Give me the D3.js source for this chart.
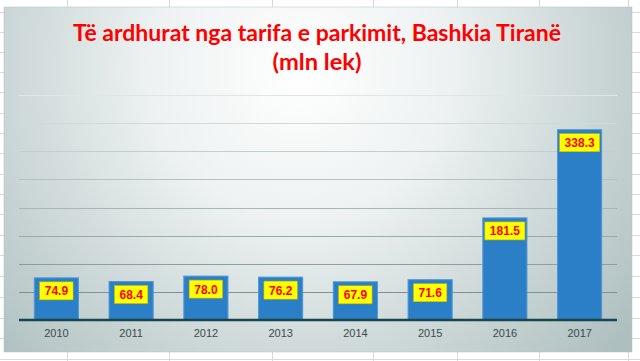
<!DOCTYPE html>
<html>
<head>
<meta charset="utf-8">
<script src="https://cdn.jsdelivr.net/npm/d3@7"></script>
<style>
  html, body { margin: 0; padding: 0; background: #fff; }
  svg { display: block; }
</style>
</head>
<body>
<svg id="chart" width="640" height="361"></svg>
<script>
// te dhenat e grafikut
const years = ["2010", "2011", "2012", "2013", "2014", "2015", "2016", "2017"];
const revenue = [74.9, 68.4, 78.0, 76.2, 67.9, 71.6, 181.5, 338.3];
const yTicks = [50, 100, 150, 200, 250, 300, 350, 400];
const titleLines = ["Të ardhurat nga tarifa e parkimit, Bashkia Tiranë", "(mln lek)"];

// rrjeta e fletes Excel ne sfond
const sheetCols = [67, 169, 272, 373, 457, 539, 628];
const sheetRows = [12, 32, 52, 72, 92, 113, 133, 153, 174, 194, 214, 235, 255, 276, 297, 318, 338, 359];

const width = 640, height = 361;
const panel = { x: 4, y: 7, w: 628, h: 345 };
const plot = { left: 19, right: 617, top: 95, bottom: 320 };

const svg = d3.select("#chart");

// sfondi i fletes
const sheet = svg.append("g").attr("class", "sheet");
sheet.selectAll("line.col")
  .data(sheetCols)
  .enter().append("line")
  .attr("x1", d => d + 0.5).attr("x2", d => d + 0.5)
  .attr("y1", 0).attr("y2", height)
  .style("stroke", "#d9d9d9");
sheet.selectAll("line.row")
  .data(sheetRows)
  .enter().append("line")
  .attr("x1", 0).attr("x2", width)
  .attr("y1", d => d + 0.5).attr("y2", d => d + 0.5)
  .style("stroke", "#d9d9d9");

// gradienti i panelit
const defs = svg.append("defs");
const grad = defs.append("radialGradient")
  .attr("id", "panelGrad")
  .attr("gradientUnits", "userSpaceOnUse")
  .attr("cx", 300).attr("cy", 70).attr("r", 420)
  .attr("fx", 300).attr("fy", 70);
grad.append("stop").attr("offset", "0%").attr("stop-color", "#ffffff");
grad.append("stop").attr("offset", "35%").attr("stop-color", "#eef2f2");
grad.append("stop").attr("offset", "100%").attr("stop-color", "#aebfbf");

svg.append("rect")
  .attr("x", panel.x).attr("y", panel.y)
  .attr("width", panel.w).attr("height", panel.h)
  .style("fill", "url(#panelGrad)")
  .style("stroke", "#b4c2c2")
  .style("stroke-width", 0.5);

// shkallet
const x = d3.scaleBand()
  .domain(years)
  .range([plot.left, plot.right])
  .paddingInner(0.41)
  .paddingOuter(0.205);

const y = d3.scaleLinear()
  .domain([0, 400])
  .range([plot.bottom, plot.top]);

// vijat e rrjetes, me te lehta lart
const gridColor = d3.interpolateRgb("#7e9292", "#dfe6e6");
svg.append("g")
  .attr("class", "grid")
  .selectAll("line")
  .data(yTicks)
  .enter().append("line")
  .attr("x1", plot.left).attr("x2", plot.right)
  .attr("y1", d => Math.round(y(d)) + 0.5)
  .attr("y2", d => Math.round(y(d)) + 0.5)
  .style("stroke", (d, i) => gridColor(i / (yTicks.length - 1)))
  .style("stroke-width", 1.2);

// shtyllat
svg.append("g")
  .attr("class", "bars")
  .selectAll("rect")
  .data(revenue)
  .enter().append("rect")
  .attr("x", (d, i) => x(years[i]))
  .attr("y", d => y(d))
  .attr("width", x.bandwidth())
  .attr("height", d => y(0) - y(d))
  .style("fill", "#2a7fc6")
  .style("stroke", "#4e97d6")
  .style("stroke-width", 1);

// boshti x
const xAxis = svg.append("g")
  .attr("transform", `translate(0, ${plot.bottom})`)
  .call(d3.axisBottom(x).tickSize(0).tickPadding(9));
xAxis.select(".domain").remove();
xAxis.selectAll("text")
  .style("font-family", "'Liberation Sans', Arial, sans-serif")
  .style("font-size", "11px")
  .style("fill", "#3b4c4c");

svg.append("line")
  .attr("x1", plot.left).attr("x2", plot.right)
  .attr("y1", plot.bottom).attr("y2", plot.bottom)
  .style("stroke", "#17464c")
  .style("stroke-width", 2.5);

// etiketat e vlerave
const labels = svg.append("g")
  .attr("class", "labels")
  .selectAll("g")
  .data(revenue)
  .enter().append("g")
  .attr("transform", (d, i) => `translate(${x(years[i]) + x.bandwidth() / 2}, ${y(d) + 4})`);

labels.append("rect").attr("class", "box");
labels.append("text")
  .attr("text-anchor", "middle")
  .attr("y", 13.5)
  .style("font-family", "'Liberation Sans', Arial, sans-serif")
  .style("font-weight", "bold")
  .style("font-size", "12px")
  .style("fill", "#ff0000")
  .text(d => d.toFixed(1));

labels.each(function () {
  const g = d3.select(this);
  const w = g.select("text").node().getComputedTextLength() + 10;
  g.select("rect.box")
    .attr("x", -w / 2).attr("y", 0)
    .attr("width", w).attr("height", 18)
    .style("fill", "#ffff00")
    .style("stroke", "#c9b800")
    .style("stroke-width", 0.6);
});

// titulli
const titleWidths = [488, 89];
svg.append("g")
  .attr("class", "title")
  .selectAll("text")
  .data(titleLines)
  .enter().append("text")
  .attr("x", 317)
  .attr("y", (d, i) => 41 + i * 29)
  .attr("text-anchor", "middle")
  .attr("textLength", (d, i) => titleWidths[i])
  .attr("lengthAdjust", "spacingAndGlyphs")
  .style("font-family", "Lato, 'Open Sans', sans-serif")
  .style("font-weight", "bold")
  .style("font-size", "23px")
  .style("fill", "#ff0000")
  .text(d => d);
</script>
</body>
</html>
